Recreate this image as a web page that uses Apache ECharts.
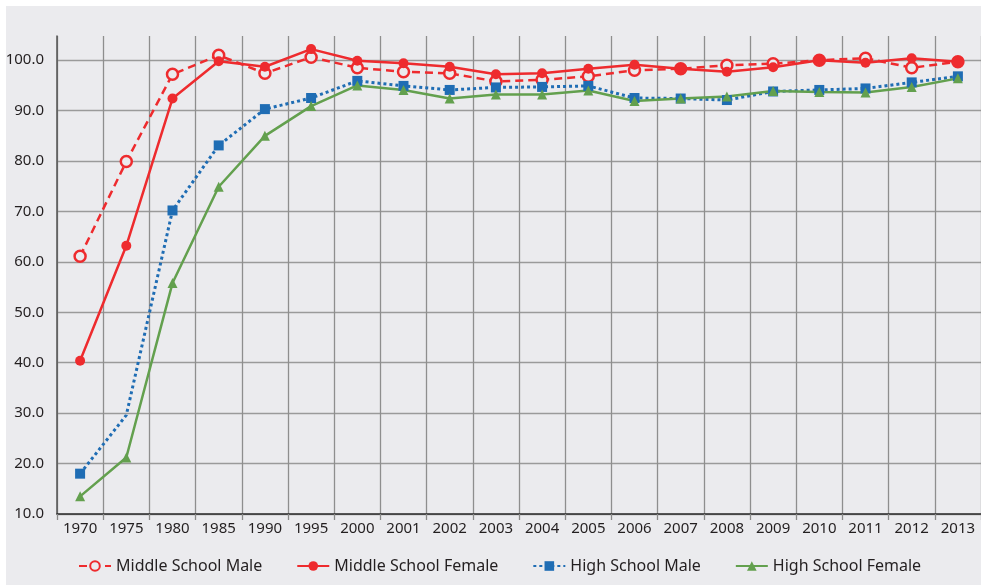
<!DOCTYPE html>
<html>
<head>
  <meta charset="UTF-8">
  <title>Enrollment</title>
  <script src="https://cdn.jsdelivr.net/npm/echarts@6/dist/echarts.min.js"></script>
  <style>
    html, body { margin: 0; padding: 0; background: #fff; }
    #main { position: absolute; left: 6px; top: 6px; width: 975px; height: 579px; background: #ebebee; }
  </style>
</head>
<body>
<div id="main"></div>
<script>
  var years = ['1970', '1975', '1980', '1985', '1990', '1995', '2000', '2001', '2002', '2003',
    '2004', '2005', '2006', '2007', '2008', '2009', '2010', '2011', '2012', '2013'];

  var middleMale = [61.1, 79.9, 97.2, 101.0, 97.4, 100.6, 98.5, 97.7, 97.4, 95.8,
    96.1, 96.8, 98.0, 98.3, 99.0, 99.3, 100.0, 100.4, 98.5, 99.7];
  var middleFemale = [40.4, 63.2, 92.4, 99.8, 98.7, 102.2, 99.9, 99.4, 98.7, 97.2,
    97.4, 98.3, 99.1, 98.3, 97.7, 98.6, 100.0, 99.5, 100.4, 99.7];
  var highMale = [18.0, 29.6, 70.2, 83.1, 90.3, 92.5, 95.9, 94.9, 94.1, 94.6,
    94.7, 94.9, 92.5, 92.4, 92.1, 93.8, 94.1, 94.4, 95.6, 96.8];
  var highFemale = [13.5, 21.2, 55.8, 74.9, 85.0, 90.9, 95.0, 94.1, 92.4, 93.2,
    93.2, 94.0, 91.9, 92.4, 92.8, 93.9, 93.7, 93.6, 94.7, 96.4];

  var yTicks = ['10.0', '20.0', '30.0', '40.0', '50.0', '60.0', '70.0', '80.0', '90.0', '100.0'];

  var font = 'Noto Sans';
  var bg = '#ebebee';
  var red = '#ee2b2e', blue = '#1f6db4', green = '#63a04e';

  // 1975 point of high school male has no marker in the source
  var highMaleData = highMale.map(function (v, i) {
    return i === 1 ? { value: v, symbol: 'none' } : v;
  });

  var option = {
    backgroundColor: bg,
    animation: false,
    textStyle: { fontFamily: font },
    grid: { left: 51, right: 0, top: 30, bottom: 71, containLabel: false, outerBoundsMode: 'none' },
    legend: {
      left: 67,
      top: 547,
      itemWidth: 32,
      itemHeight: 12,
      itemGap: 34,
      textStyle: { fontFamily: font, fontSize: 16, color: '#231f20' },
      data: ['Middle School Male', 'Middle School Female', 'High School Male', 'High School Female']
    },
    xAxis: {
      type: 'category',
      data: years,
      boundaryGap: true,
      axisLine: { lineStyle: { color: '#2b2b2b', width: 1.5 } },
      axisTick: { show: true, length: 6, lineStyle: { color: '#8a8a8a', width: 1.3 } },
      axisLabel: { color: '#231f20', fontSize: 15, fontFamily: font, margin: 7 },
      splitLine: { show: true, lineStyle: { color: '#8e8e8e', width: 1.3 } }
    },
    yAxis: {
      type: 'value',
      min: 10,
      max: 104.8,
      interval: 10,
      axisLine: { show: true, lineStyle: { color: '#555', width: 1.5 } },
      axisTick: { show: false },
      axisLabel: {
        color: '#231f20', fontSize: 15, fontFamily: font, margin: 13,
        showMaxLabel: false,
        formatter: function (v) { return yTicks[Math.round((v - 10) / 10)] || ''; }
      },
      splitLine: { show: true, showMaxLine: false, lineStyle: { color: '#9a9a9a', width: 1.3 } }
    },
    series: [{
      name: 'Middle School Male',
      type: 'line',
      data: middleMale,
      symbol: 'circle',
      symbolSize: 11,
      lineStyle: { color: red, width: 2.5, type: [8, 5] },
      itemStyle: { color: bg, borderColor: red, borderWidth: 2.5 }
    }, {
      name: 'Middle School Female',
      type: 'line',
      data: middleFemale,
      symbol: 'circle',
      symbolSize: 10,
      lineStyle: { color: red, width: 2.5 },
      itemStyle: { color: red }
    }, {
      name: 'High School Male',
      type: 'line',
      data: highMaleData,
      symbol: 'rect',
      symbolSize: 10,
      lineStyle: { color: blue, width: 3, type: [3, 3] },
      itemStyle: { color: blue }
    }, {
      name: 'High School Female',
      type: 'line',
      data: highFemale,
      symbol: 'triangle',
      symbolSize: 10,
      lineStyle: { color: green, width: 2.5 },
      itemStyle: { color: green }
    }]
  };

  echarts.init(document.getElementById('main')).setOption(option);
</script>
</body>
</html>
